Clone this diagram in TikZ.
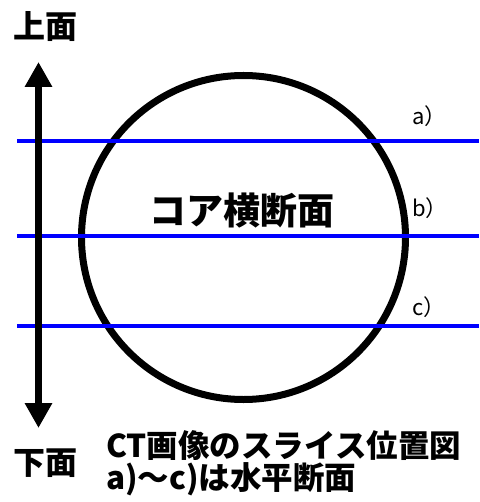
\documentclass[tikz,border=0pt]{standalone}
\usepackage{fontspec}
\setmainfont{Noto Sans CJK JP}
\usetikzlibrary{arrows.meta}
\tikzset{
  bigtext/.style={font=\bfseries\fontsize{32}{36}\selectfont, inner sep=0pt},
  slicelabel/.style={font=\fontsize{22}{24}\selectfont, inner sep=0pt, anchor=west},
  sliceline/.style={blue, line width=3.2pt},
}
\begin{document}
\begin{tikzpicture}[x=1pt, y=-1pt]
    \useasboundingbox (0,0) rectangle (479,502);
    % Top / bottom labels and the vertical arrow
    \node[bigtext] (top) at (45,27) {上面};
    \node[bigtext] (bottom) at (45,463) {下面};
    \coordinate (arrtop) at (38.5,62);
    \coordinate (arrbot) at (38.5,428);
    % Core cross section
    \draw[line width=7pt] (243.5,237.5) circle (162);
    \node[bigtext, font=\bfseries\fontsize{37}{40}\selectfont] (core) at (242,211) {コア横断面};
    % Slice positions a)-c)
    \foreach \y/\l in {141/a, 236/b, 326/c} {
      \coordinate (s\l) at (17,\y);
      \coordinate (e\l) at (479,\y);
      \draw[sliceline] (s\l) -- (e\l);
    }
    \node[slicelabel] (laba) at (412,116) {a）};
    \node[slicelabel] (labb) at (412,208) {b）};
    \node[slicelabel] (labc) at (412,307) {c）};
    \draw[line width=7pt, {Triangle[width=26pt, length=25pt]}-{Triangle[width=26pt, length=25pt]}]
      (arrtop) -- (arrbot);
    % Caption
    \node[bigtext, font=\bfseries\fontsize{31.5}{32}\selectfont, align=left, anchor=north west]
      (caption) at (106,430) {CT画像のスライス位置図\\a)～c)は水平断面};
\end{tikzpicture}
\end{document}
